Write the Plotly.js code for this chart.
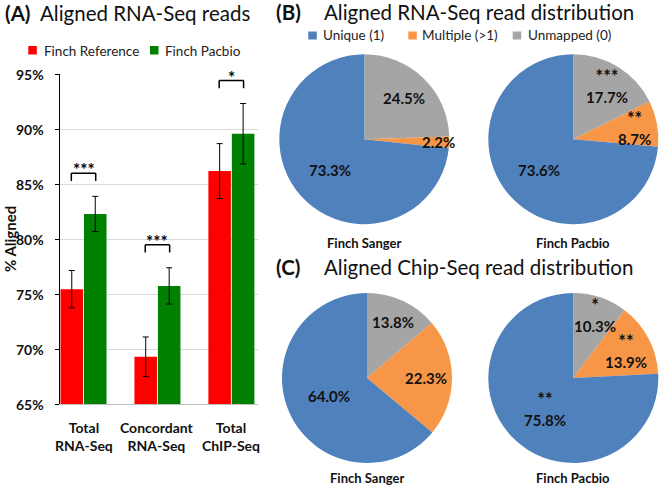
<!DOCTYPE html>
<html><head><meta charset="utf-8">
<script src="https://cdn.plot.ly/plotly-3.0.1.min.js"></script>
<style>html,body{margin:0;padding:0;background:#fff}</style>
</head><body><div id="chart" style="width:661px;height:488px"></div>
<script>
// ---- Data ----
const categories = ['Total<br>RNA-Seq', 'Concordant<br>RNA-Seq', 'Total<br>ChIP-Seq'];
const seriesNames = ['Finch Reference', 'Finch Pacbio'];
const refValues = [75.45, 69.3, 86.2];
const refErrors = [1.7, 1.8, 2.5];
const pacValues = [82.3, 75.75, 89.6];
const pacErrors = [1.6, 1.65, 2.75];
const sigStars = ['***', '***', '*'];
const yTickVals = [65, 70, 75, 80, 85, 90, 95];
const yTickText = ['65%', '70%', '75%', '80%', '85%', '90%', '95%'];

const sliceLabels = ['Unique (1)', 'Multiple (>1)', 'Unmapped (0)'];
const rnaSanger = [73.3, 2.2, 24.5];
const rnaPacbio = [73.6, 8.7, 17.7];
const chipSanger = [64.0, 22.3, 13.8];
const chipPacbio = [75.8, 13.9, 10.3];
const rnaSangerStars = ['', '', ''];
const rnaPacbioStars = ['', '**', '***'];
const chipSangerStars = ['', '', ''];
const chipPacbioStars = ['**', '**', '*'];
const pieNames = ['Finch Sanger', 'Finch Pacbio'];

// ---- Styles / layout constants ----
const W = 661, H = 488;
const FONT = 'Lato, "Open Sans", sans-serif';
const barColors = ['#FF0000', '#008000'];
const sliceColors = ['#4F81BD', '#F79646', '#A5A5A5'];
const px = x => x / W;
const py = y => 1 - y / H;
const R = 85;
const pies = [
  {vals: rnaSanger, stars: rnaSangerStars, cx: 364.3, cy: 139.2, ny: 243, rf: [0.54, 0.87, 0.67], name: pieNames[0]},
  {vals: rnaPacbio, stars: rnaPacbioStars, cx: 573.3, cy: 139.2, ny: 243, rf: [0.54, 0.73, 0.74], name: pieNames[1]},
  {vals: chipSanger, stars: chipSangerStars, cx: 367.0, cy: 378.0, ny: 478, rf: [0.49, 0.70, 0.73], name: pieNames[0]},
  {vals: chipPacbio, stars: chipPacbioStars, cx: 573.3, cy: 378.0, ny: 478, rf: [0.49, 0.70, 0.79], name: pieNames[1]}
];

const traces = [];
const annotations = [];
const shapes = [];

// Bars
[[refValues, refErrors], [pacValues, pacErrors]].forEach((s, k) => {
  traces.push({
    type: 'bar', x: categories, y: s[0], name: seriesNames[k],
    marker: {color: barColors[k], line: {width: 0}},
    error_y: {type: 'data', array: s[1], visible: true, color: '#000', thickness: 1, width: 3},
    showlegend: false, xaxis: 'x', yaxis: 'y'
  });
});

// Axis tick labels (placed on the axes' own scales)
const tickFont = {family: FONT, size: 14, color: '#111'};
yTickVals.forEach((v, i) => {
  annotations.push({xref: 'paper', yref: 'y', x: px(46), y: v, xanchor: 'right', yanchor: 'middle',
    text: '<b>' + yTickText[i] + '</b>', showarrow: false, font: tickFont});
});
categories.forEach((c, i) => {
  annotations.push({xref: 'x', yref: 'paper', x: i, y: py(436), xanchor: 'center', yanchor: 'middle',
    text: '<b>' + c + '</b>', showarrow: false, font: tickFont});
});

// Significance brackets
categories.forEach((c, i) => {
  const top = Math.max(refValues[i] + refErrors[i], pacValues[i] + pacErrors[i]) + 2.1;
  const bot = top - 0.7;
  const x0 = i - 0.165, x1 = i + 0.165;
  const ln = {color: '#000', width: 1.5};
  shapes.push({type: 'line', xref: 'x', yref: 'y', x0: x0, x1: x0, y0: bot, y1: top, line: ln});
  shapes.push({type: 'line', xref: 'x', yref: 'y', x0: x0, x1: x1, y0: top, y1: top, line: ln});
  shapes.push({type: 'line', xref: 'x', yref: 'y', x0: x1, x1: x1, y0: bot, y1: top, line: ln});
  annotations.push({xref: 'x', yref: 'y', x: i, y: top + 0.3, yanchor: 'middle', text: '<b>' + sigStars[i] + '</b>',
    showarrow: false, font: {family: FONT, size: 17, color: '#000'}});
});

// Bar legend
const barLegend = [{sq: 28.3, tx: 42}, {sq: 150, tx: 163}];
seriesNames.forEach((n, k) => {
  shapes.push({type: 'rect', xref: 'paper', yref: 'paper', x0: px(barLegend[k].sq), x1: px(barLegend[k].sq + 8.5),
    y0: py(54.5), y1: py(46), fillcolor: barColors[k], line: {width: 0}});
  annotations.push({xref: 'paper', yref: 'paper', x: px(barLegend[k].tx), y: py(50.5), xanchor: 'left', yanchor: 'middle',
    text: n, showarrow: false, font: {family: FONT, size: 13.5, color: '#222'}});
});

// Pies (drawn clockwise from 12 o'clock in reverse category order, as in the original)
pies.forEach((p, j) => {
  traces.push({
    type: 'pie', values: p.vals.slice().reverse(), labels: sliceLabels.slice().reverse(), sort: false,
    direction: 'clockwise', rotation: 0,
    marker: {colors: sliceColors.slice().reverse(), line: {width: 0}}, textinfo: 'none', hoverinfo: 'label+percent',
    showlegend: false,
    domain: {x: [px(p.cx - R), px(p.cx + R)], y: [py(p.cy + R), py(p.cy - R)]}
  });
  const total = p.vals.reduce((a, b) => a + b, 0);
  let cum = 0;
  for (let s = p.vals.length - 1; s >= 0; s--) {
    const mid = (cum + p.vals[s] / 2) / total * 2 * Math.PI;
    cum += p.vals[s];
    const r = p.rf[s] * R;
    const x = p.cx + r * Math.sin(mid);
    const y = p.cy - r * Math.cos(mid);
    const starTxt = p.stars[s] ? '<span style="font-size:18px">' + p.stars[s] + '</span><br>' : '';
    annotations.push({xref: 'paper', yref: 'paper', x: px(x), y: py(y), xanchor: 'center', yanchor: 'middle',
      text: '<b>' + starTxt + p.vals[s].toFixed(1) + '%</b>', showarrow: false,
      font: {family: FONT, size: 15, color: '#111'}});
  }
  annotations.push({xref: 'paper', yref: 'paper', x: px(p.cx), y: py(p.ny), xanchor: 'center', yanchor: 'middle',
    text: '<b>' + p.name + '</b>', showarrow: false, font: {family: FONT, size: 13, color: '#111'}});
});

// Pie legend
const pieLegend = [{sq: 308.3, tx: 320.5}, {sq: 408.3, tx: 419.5}, {sq: 512.7, tx: 525.5}];
sliceLabels.forEach((n, k) => {
  shapes.push({type: 'rect', xref: 'paper', yref: 'paper', x0: px(pieLegend[k].sq), x1: px(pieLegend[k].sq + 8.5),
    y0: py(39.5), y1: py(31.5), fillcolor: sliceColors[k], line: {width: 0}});
  annotations.push({xref: 'paper', yref: 'paper', x: px(pieLegend[k].tx), y: py(35.5), xanchor: 'left', yanchor: 'middle',
    text: n, showarrow: false, font: {family: FONT, size: 13.5, color: '#222'}});
});

// Panel titles
const titleFont = {family: FONT, size: 20.5, color: '#111'};
const titles = [
  {lab: '(A)', lx: 3, tx: 38, y: 13, t: 'Aligned RNA-Seq reads'},
  {lab: '(B)', lx: 274, tx: 322, y: 12, t: 'Aligned RNA-Seq read distribution'},
  {lab: '(C)', lx: 274, tx: 322, y: 267, t: 'Aligned Chip-Seq read distribution'}
];
titles.forEach(t => {
  annotations.push({xref: 'paper', yref: 'paper', x: px(t.lx), y: py(t.y), xanchor: 'left', yanchor: 'middle',
    text: '<b>' + t.lab + '</b>', showarrow: false, font: titleFont});
  annotations.push({xref: 'paper', yref: 'paper', x: px(t.tx), y: py(t.y), xanchor: 'left', yanchor: 'middle',
    text: t.t, showarrow: false, font: titleFont});
});

// Y axis title
annotations.push({xref: 'paper', yref: 'paper', x: px(10), y: py(239), xanchor: 'center', yanchor: 'middle',
  text: '<b>% Aligned</b>', textangle: -90, showarrow: false, font: {family: FONT, size: 15, color: '#111'}});

const layout = {
  width: W, height: H, margin: {l: 0, r: 0, t: 0, b: 0},
  paper_bgcolor: '#fff', plot_bgcolor: '#fff',
  barmode: 'group', bargap: 0.365, bargroupgap: 0.04,
  xaxis: {domain: [px(60), px(258)], type: 'category', range: [-0.318, 2.36],
    showline: true, linecolor: '#bfbfbf', linewidth: 1, ticks: '', showgrid: false, zeroline: false,
    showticklabels: false, fixedrange: true},
  yaxis: {domain: [py(404), py(74.4)], range: [65, 95], tickvals: yTickVals,
    showline: true, linecolor: '#000', linewidth: 1, ticks: 'outside', ticklen: 4, tickcolor: '#000',
    showgrid: true, gridcolor: '#d9d9d9', zeroline: false, showticklabels: false, fixedrange: true},
  shapes: shapes, annotations: annotations, showlegend: false
};

Plotly.newPlot('chart', traces, layout, {displayModeBar: false, staticPlot: true});
</script></body></html>
